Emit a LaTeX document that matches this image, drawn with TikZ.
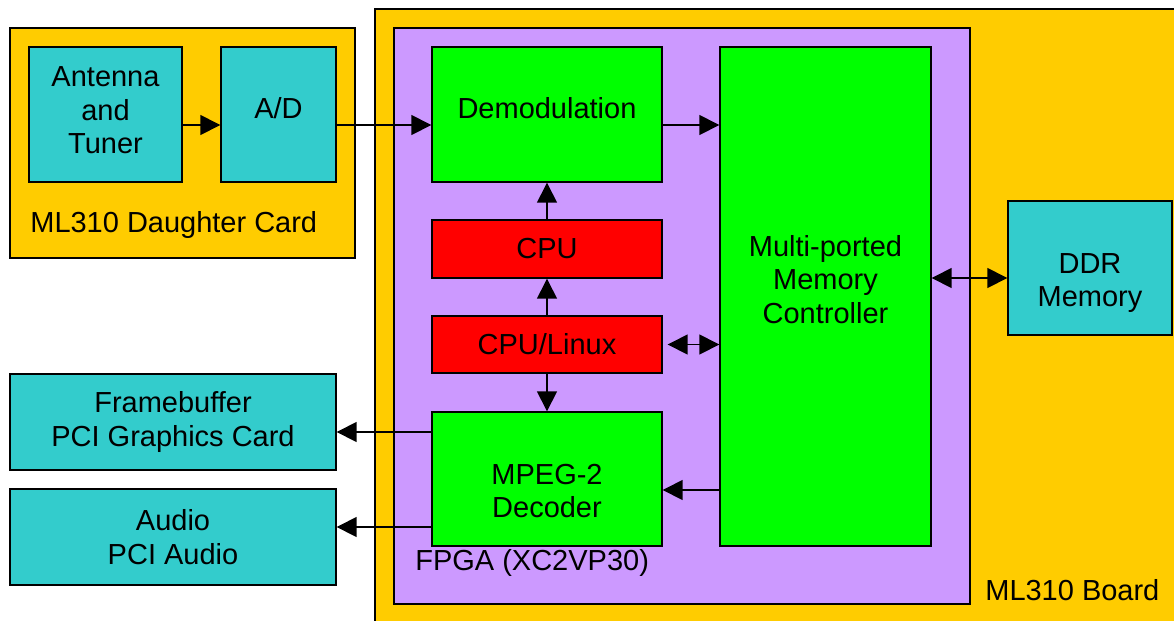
\documentclass[tikz,border=0pt]{standalone}
\usepackage{fontspec}
\setmainfont{Liberation Sans}
\usepackage{tikz}
\usetikzlibrary{positioning, arrows.meta}

\definecolor{boardyellow}{HTML}{FFCC00}
\definecolor{fpgapurple}{HTML}{CC99FF}
\definecolor{chipcyan}{HTML}{33CCCC}
\definecolor{coregreen}{HTML}{00FF00}
\definecolor{cpured}{HTML}{FF0000}

\tikzset{
  blk/.style={draw=black, line width=0.8pt, inner sep=0pt, align=center,
    font=\fontsize{16.5}{19}\selectfont},
  cyanbox/.style={blk, fill=chipcyan},
  greenbox/.style={blk, fill=coregreen},
  redbox/.style={blk, fill=cpured},
  lbl/.style={anchor=west, inner sep=0pt, font=\fontsize{16.5}{19}\selectfont},
  inlbl/.style={align=center, font=\fontsize{16.5}{19}\selectfont},
  arr/.style={line width=0.8pt, -{Triangle[length=0.4cm,width=0.4cm]}},
  dblarr/.style={line width=0.8pt, {Triangle[length=0.4cm,width=0.4cm]}-{Triangle[length=0.4cm,width=0.4cm]}}
}

\begin{document}
\begin{tikzpicture}[x=0.02cm, y=-0.02cm]
    \useasboundingbox (0,0) rectangle (1174,620);

    % the two boards
    \node[blk, fill=boardyellow, minimum width=6.9cm, minimum height=4.6cm] (dcard) at (182.5,143) {};
    \draw[line width=0.8pt, fill=boardyellow] (375,9) rectangle (1190,640);
    \node[blk, fill=fpgapurple, minimum width=11.52cm, minimum height=11.52cm] (fpga) at (682,316) {};

    % the labels for each board
    \node[lbl] (dcardlbl) at (30,225) {ML310 Daughter Card};
    \node[lbl] (fpgalbl) at (415,563) {FPGA (XC2VP30)};
    \node[lbl] (boardlbl) at (985,590) {ML310 Board};

    % blocks on the daughter card
    \node[cyanbox, minimum width=3.06cm, minimum height=2.7cm,
      label={[yshift=0.08cm, inlbl]center:Antenna\\and\\Tuner}] (ant) at (105.5,114.5) {};
    \node[cyanbox, minimum width=2.3cm, minimum height=2.7cm,
      label={[yshift=0.12cm, inlbl]center:A/D}] (ad) at (278.5,114.5) {};

    % blocks in the FPGA
    \node[greenbox, minimum width=4.6cm, minimum height=2.7cm,
      label={[yshift=0.12cm, inlbl]center:Demodulation}] (demod) at (547,114.5) {};
    \node[redbox, minimum width=4.6cm, minimum height=1.16cm] (cpu) at (547,249) {CPU};
    \node[redbox, minimum width=4.6cm, minimum height=1.14cm] (linux) at (547,344.5) {CPU/Linux};
    \node[greenbox, minimum width=4.6cm, minimum height=2.68cm,
      label={[yshift=-0.24cm, inlbl]center:MPEG-2\\Decoder}] (mpeg) at (547,479) {};
    \node[greenbox, minimum width=4.22cm, minimum height=9.98cm,
      label={[yshift=0.34cm, inlbl]center:Multi-ported\\Memory\\Controller}] (mmc) at (825.5,296.5) {};

    % blocks outside the FPGA
    \node[cyanbox, minimum width=3.28cm, minimum height=2.68cm,
      label={[yshift=-0.3cm, inlbl]center:DDR\\Memory}] (ddr) at (1090,268) {};
    \node[cyanbox, minimum width=6.52cm, minimum height=1.92cm] (fb) at (173,422) {Framebuffer\\PCI Graphics Card};
    \node[cyanbox, minimum width=6.52cm, minimum height=1.92cm] (audio) at (173,537) {Audio\\PCI Audio};

    % signal path
    \draw[arr] ([yshift=-0.21cm]ant.east) -- ([yshift=-0.21cm]ad.west);
    \draw[arr] ([yshift=-0.21cm]ad.east) -- ([yshift=-0.21cm]demod.west);
    \draw[arr] ([yshift=-0.21cm]demod.east) -- ([yshift=-0.21cm]demod.east -| mmc.west);

    % cpu connections
    \draw[arr] (cpu.north) -- (demod.south);
    \draw[arr] (linux.north) -- (cpu.south);
    \draw[arr] (linux.south) -- (mpeg.north);
    \draw[dblarr] ([xshift=0.1cm]linux.east) -- (linux.east -| mmc.west);

    % memory connections
    \draw[arr] ([yshift=-0.22cm]mpeg.east -| mmc.west) -- ([yshift=-0.22cm]mpeg.east);
    \draw[dblarr] ([yshift=-0.2cm]ddr.west -| mmc.east) -- ([yshift=-0.2cm]ddr.west);

    % outputs
    \draw[arr] ([yshift=-0.2cm]fb.east -| mpeg.west) -- ([yshift=-0.2cm]fb.east);
    \draw[arr] ([yshift=0.2cm]audio.east -| mpeg.west) -- ([yshift=0.2cm]audio.east);

  \end{tikzpicture}
\end{document}
